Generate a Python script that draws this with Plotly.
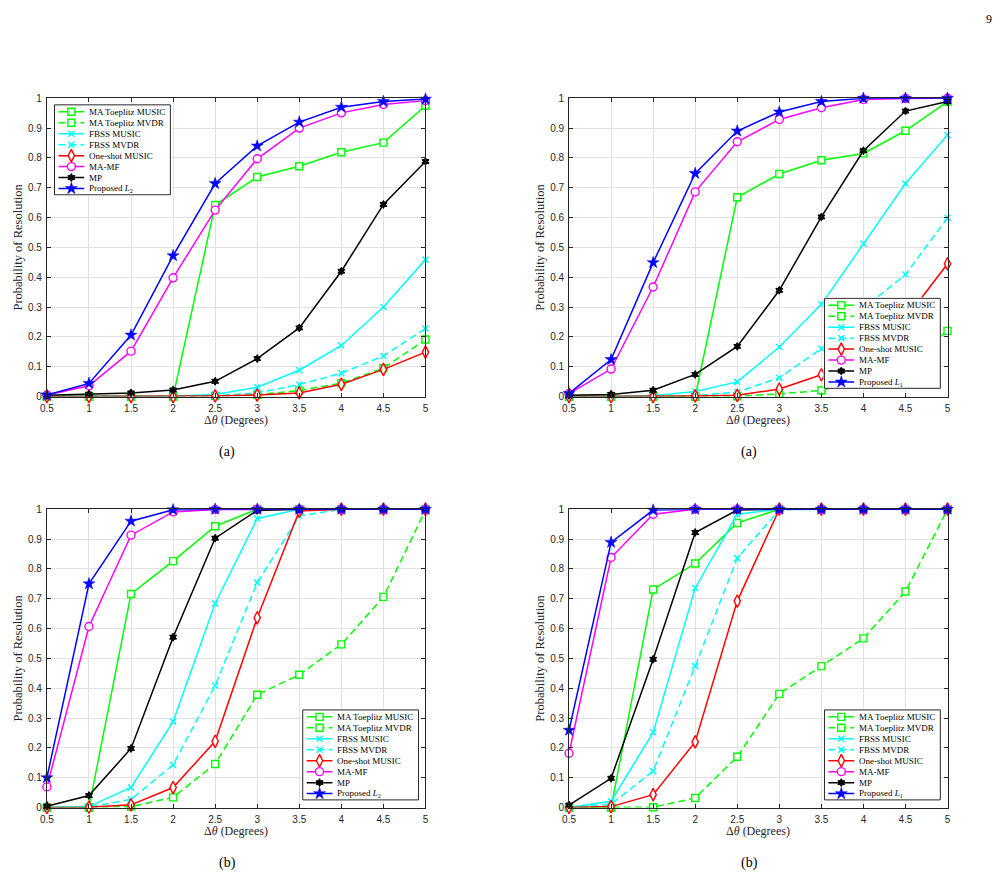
import plotly.graph_objects as go

W, H = 1003, 883

theta = [0.5, 1, 1.5, 2, 2.5, 3, 3.5, 4, 4.5, 5]
x_ticks = [0.5, 1, 1.5, 2, 2.5, 3, 3.5, 4, 4.5, 5]
y_ticks = [0, 0.1, 0.2, 0.3, 0.4, 0.5, 0.6, 0.7, 0.8, 0.9, 1]
y_tick_text = ["0", "0.1", "0.2", "0.3", "0.4", "0.5", "0.6", "0.7", "0.8", "0.9", "1"]
x_tick_text = ["0.5", "1", "1.5", "2", "2.5", "3", "3.5", "4", "4.5", "5"]

series_names_L2 = ["MA Toeplitz MUSIC", "MA Toeplitz MVDR", "FBSS MUSIC", "FBSS MVDR",
                   "One-shot MUSIC", "MA-MF", "MP", "Proposed <i>L</i><sub>2</sub>"]
series_names_L1 = ["MA Toeplitz MUSIC", "MA Toeplitz MVDR", "FBSS MUSIC", "FBSS MVDR",
                   "One-shot MUSIC", "MA-MF", "MP", "Proposed <i>L</i><sub>1</sub>"]

# ---- panel top-left (a), L2 ----
tl_ma_music = [0, 0, 0, 0, 0.642, 0.736, 0.772, 0.819, 0.851, 0.975]
tl_ma_mvdr = [0, 0, 0, 0, 0.002, 0.006, 0.020, 0.045, 0.095, 0.191]
tl_fbss_music = [0, 0, 0, 0.002, 0.007, 0.031, 0.088, 0.171, 0.300, 0.459]
tl_fbss_mvdr = [0, 0, 0, 0.001, 0.003, 0.012, 0.040, 0.078, 0.136, 0.228]
tl_oneshot = [0, 0, 0, 0, 0.002, 0.005, 0.012, 0.041, 0.091, 0.149]
tl_mamf = [0.005, 0.036, 0.152, 0.398, 0.625, 0.797, 0.900, 0.951, 0.979, 0.992]
tl_mp = [0.004, 0.008, 0.012, 0.022, 0.051, 0.127, 0.230, 0.420, 0.644, 0.788]
tl_prop = [0.005, 0.044, 0.206, 0.472, 0.714, 0.840, 0.920, 0.970, 0.989, 0.997]

# ---- panel top-right (a), L1 ----
tr_ma_music = [0, 0, 0, 0, 0.668, 0.746, 0.792, 0.815, 0.891, 0.989]
tr_ma_mvdr = [0, 0, 0, 0, 0.001, 0.009, 0.020, 0.055, 0.110, 0.220]
tr_fbss_music = [0, 0, 0.003, 0.017, 0.049, 0.166, 0.309, 0.512, 0.714, 0.877]
tr_fbss_mvdr = [0, 0, 0.001, 0.003, 0.015, 0.063, 0.160, 0.295, 0.409, 0.599]
tr_oneshot = [0, 0, 0, 0.002, 0.004, 0.025, 0.073, 0.150, 0.260, 0.445]
tr_mamf = [0.010, 0.092, 0.367, 0.686, 0.854, 0.929, 0.968, 0.996, 0.999, 1.0]
tr_mp = [0.004, 0.007, 0.021, 0.074, 0.168, 0.356, 0.602, 0.824, 0.957, 0.989]
tr_prop = [0.010, 0.124, 0.449, 0.748, 0.890, 0.954, 0.989, 1.0, 1.0, 1.0]

# ---- panel bottom-left (b), L2 ----
bl_ma_music = [0, 0, 0.716, 0.826, 0.943, 1, 1, 1, 1, 1]
bl_ma_mvdr = [0, 0, 0.003, 0.034, 0.146, 0.378, 0.445, 0.547, 0.706, 0.997]
bl_fbss_music = [0, 0.003, 0.067, 0.288, 0.684, 0.969, 1, 1, 1, 1]
bl_fbss_mvdr = [0, 0.002, 0.027, 0.143, 0.409, 0.754, 0.977, 1, 1, 1]
bl_oneshot = [0, 0.001, 0.009, 0.067, 0.222, 0.636, 0.994, 1, 1, 1]
bl_mamf = [0.069, 0.607, 0.913, 0.991, 0.999, 1, 1, 1, 1, 1]
bl_mp = [0.004, 0.040, 0.198, 0.571, 0.903, 0.996, 1, 1, 1, 1]
bl_prop = [0.100, 0.750, 0.960, 0.998, 1, 1, 1, 1, 1, 1]

# ---- panel bottom-right (b), L1 ----
br_ma_music = [0, 0, 0.731, 0.818, 0.954, 1, 1, 1, 1, 1]
br_ma_mvdr = [0, 0, 0.001, 0.032, 0.170, 0.381, 0.474, 0.567, 0.724, 1.0]
br_fbss_music = [0, 0.021, 0.252, 0.736, 0.983, 1, 1, 1, 1, 1]
br_fbss_mvdr = [0, 0.011, 0.122, 0.474, 0.836, 0.998, 1, 1, 1, 1]
br_oneshot = [0, 0.003, 0.043, 0.220, 0.692, 1, 1, 1, 1, 1]
br_mamf = [0.182, 0.838, 0.983, 1, 1, 1, 1, 1, 1, 1]
br_mp = [0.008, 0.098, 0.497, 0.922, 0.997, 1, 1, 1, 1, 1]
br_prop = [0.259, 0.889, 0.997, 1, 1, 1, 1, 1, 1, 1]

GREEN, CYAN, RED, MAG, BLK, BLUE = "#00ff00", "#00ffff", "#ff0000", "#ff00ff", "#000000", "#0000ff"

styles = [
    dict(color=GREEN, dash="solid", marker=dict(symbol="square", size=7, color="white", line=dict(color=GREEN, width=1.4))),
    dict(color=GREEN, dash="7px,4px", marker=dict(symbol="square", size=7, color="white", line=dict(color=GREEN, width=1.4))),
    dict(color=CYAN, dash="solid", marker=dict(symbol="x-thin-open", size=6, color=CYAN, line=dict(color=CYAN, width=1.5))),
    dict(color=CYAN, dash="7px,4px", marker=dict(symbol="x-thin-open", size=6, color=CYAN, line=dict(color=CYAN, width=1.5))),
    dict(color=RED, dash="solid", marker=dict(symbol="diamond-tall", size=9, color="white", line=dict(color=RED, width=1.4))),
    dict(color=MAG, dash="solid", marker=dict(symbol="circle", size=8, color="white", line=dict(color=MAG, width=1.4))),
    dict(color=BLK, dash="solid", marker=dict(symbol="hexagram", size=6, color=BLK, line=dict(color=BLK, width=1))),
    dict(color=BLUE, dash="solid", marker=dict(symbol="star", size=9, color=BLUE, line=dict(color=BLUE, width=0.5))),
]

panels = [
    dict(data=[tl_ma_music, tl_ma_mvdr, tl_fbss_music, tl_fbss_mvdr, tl_oneshot, tl_mamf, tl_mp, tl_prop],
         names=series_names_L2, box=(40.3, 94.3, 422.7, 396.0), legend=(48, 101), caption="(a)"),
    dict(data=[tr_ma_music, tr_ma_mvdr, tr_fbss_music, tr_fbss_mvdr, tr_oneshot, tr_mamf, tr_mp, tr_prop],
         names=series_names_L1, box=(567.7, 94.3, 950.0, 396.0), legend=(825.7, 296.7), caption="(a)"),
    dict(data=[bl_ma_music, bl_ma_mvdr, bl_fbss_music, bl_fbss_mvdr, bl_oneshot, bl_mamf, bl_mp, bl_prop],
         names=series_names_L2, box=(40.3, 510.0, 422.7, 811.7), legend=(298.7, 713), caption="(b)"),
    dict(data=[br_ma_music, br_ma_mvdr, br_fbss_music, br_fbss_mvdr, br_oneshot, br_mamf, br_mp, br_prop],
         names=series_names_L1, box=(567.7, 510.0, 950.0, 811.7), legend=(825.7, 713), caption="(b)"),
]

SERIF = "Liberation Serif, Times New Roman, serif"
SANS = "Liberation Sans, Arial, sans-serif"
AXC = "#262626"

fig = go.Figure()
layout = dict(width=W, height=H, margin=dict(l=0, r=0, t=0, b=0),
              paper_bgcolor="white", plot_bgcolor="white", showlegend=False)
annotations = []

LEG_W, LEG_H = 117.0, 91.0

for i, p in enumerate(panels):
    n = i + 1
    sx = "" if n == 1 else str(n)
    xa, ya = "x" + sx, "y" + sx
    L, T, R, B = p["box"]
    layout["xaxis" + sx] = dict(
        domain=[L / W, R / W], range=[0.5, 5], anchor=ya,
        tickvals=x_ticks, ticktext=x_tick_text, ticks="inside", ticklen=4, tickcolor=AXC,
        showline=True, linecolor=AXC, linewidth=1, mirror="allticks",
        showgrid=True, gridcolor="#e1e1e1", gridwidth=1, zeroline=False,
        tickfont=dict(family=SANS, size=10, color=AXC), ticklabelstandoff=2, fixedrange=True)
    layout["yaxis" + sx] = dict(
        domain=[1 - B / H, 1 - T / H], range=[0, 1], anchor=xa,
        tickvals=y_ticks, ticktext=y_tick_text, ticks="inside", ticklen=4, tickcolor=AXC,
        showline=True, linecolor=AXC, linewidth=1, mirror="allticks",
        showgrid=True, gridcolor="#e1e1e1", gridwidth=1, zeroline=False,
        tickfont=dict(family=SANS, size=10, color=AXC), ticklabelstandoff=2, fixedrange=True)

    for vals, st, name in zip(p["data"], styles, p["names"]):
        fig.add_trace(go.Scatter(
            x=theta, y=vals, mode="lines+markers", name=name, xaxis=xa, yaxis=ya,
            line=dict(color=st["color"], width=1.5, dash=st["dash"]),
            marker=st["marker"], cliponaxis=False, hoverinfo="skip"))

    # axis titles and captions
    cx = (L + R) / 2
    annotations.append(dict(x=cx / W, y=1 - (B + 24) / H, xref="paper", yref="paper",
                            text="\u0394<i>\u03b8</i> (Degrees)", showarrow=False,
                            font=dict(family=SERIF, size=12, color=AXC), xanchor="center", yanchor="middle"))
    annotations.append(dict(x=(L - 29) / W, y=1 - ((T + B) / 2) / H, xref="paper", yref="paper",
                            text="Probability of Resolution", showarrow=False, textangle=-90,
                            font=dict(family=SERIF, size=12.5, color=AXC), xanchor="center", yanchor="middle"))
    annotations.append(dict(x=(cx - 9) / W, y=1 - (B + 56) / H, xref="paper", yref="paper",
                            text=p["caption"], showarrow=False,
                            font=dict(family=SERIF, size=14, color="#000000"), xanchor="center", yanchor="middle"))

# legends (drawn as small overlay subplots)
for i, p in enumerate(panels):
    n = i + 5
    xa, ya = "x" + str(n), "y" + str(n)
    lx, ly = p["legend"]
    layout["xaxis" + str(n)] = dict(domain=[(lx - 1) / W, (lx + LEG_W + 1) / W], range=[-1, LEG_W + 1],
                                    anchor=ya, showticklabels=False, showgrid=False, zeroline=False,
                                    showline=False, ticks="", fixedrange=True)
    layout["yaxis" + str(n)] = dict(domain=[1 - (ly + LEG_H + 1) / H, 1 - (ly - 1) / H], range=[LEG_H + 1, -1],
                                    anchor=xa, showticklabels=False, showgrid=False, zeroline=False,
                                    showline=False, ticks="", fixedrange=True)
    fig.add_trace(go.Scatter(x=[0, LEG_W, LEG_W, 0, 0], y=[0, 0, LEG_H, LEG_H, 0], mode="lines",
                             fill="toself", fillcolor="white", line=dict(color=AXC, width=1),
                             xaxis=xa, yaxis=ya, hoverinfo="skip", cliponaxis=False))
    for k, (st, name) in enumerate(zip(styles, p["names"])):
        yy = 7.0 + k * 11.09
        fig.add_trace(go.Scatter(x=[4, 30], y=[yy, yy], mode="lines",
                                 line=dict(color=st["color"], width=1.5, dash=st["dash"]),
                                 xaxis=xa, yaxis=ya, hoverinfo="skip", cliponaxis=False))
        fig.add_trace(go.Scatter(x=[17], y=[yy], mode="markers", marker=st["marker"],
                                 xaxis=xa, yaxis=ya, hoverinfo="skip", cliponaxis=False))
        annotations.append(dict(x=(lx + 32.5) / W, y=1 - (ly + yy) / H, xref="paper", yref="paper",
                                text=name, showarrow=False, xanchor="left", yanchor="middle",
                                font=dict(family=SERIF, size=9, color="#000000")))

# page number
annotations.append(dict(x=992 / W, y=1 - 14 / H, xref="paper", yref="paper", text="9", showarrow=False,
                        font=dict(family=SERIF, size=12, color="#000000"), xanchor="center", yanchor="middle"))

layout["annotations"] = annotations
fig.update_layout(**layout)
fig.write_html("out.html")
